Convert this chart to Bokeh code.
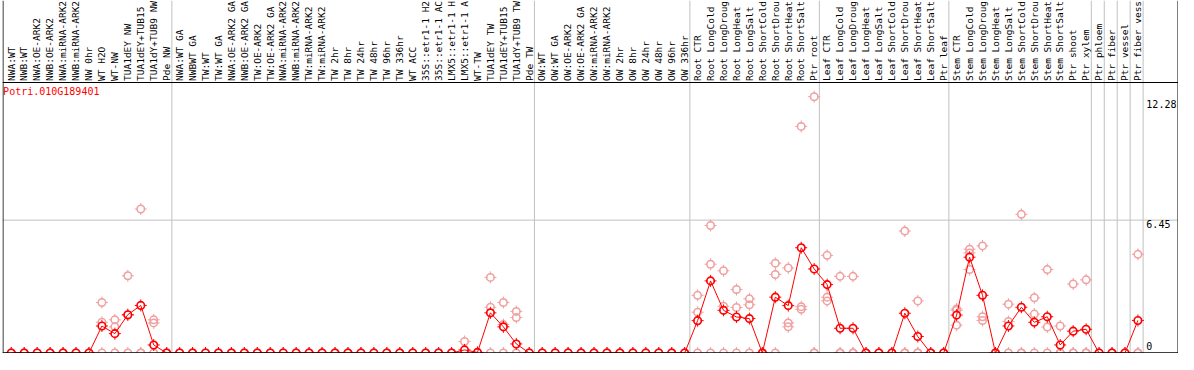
import numpy as np
from bokeh.plotting import figure
from bokeh.models import ColumnDataSource, Range1d, Span
from bokeh.embed import file_html
from bokeh.resources import INLINE
from bokeh.core.properties import value

gene_id = "Potri.010G189401"

# column labels as shown (the reference cuts them at 14 characters)
labels = [
    # group 1
    "NWA:WT", "NWB:WT", "NWA:OE-ARK2", "NWB:OE-ARK2", "NWA:miRNA-ARK2", "NWB:miRNA-ARK2",
    "NW 0hr", "WT H2O", "WT-NW", "TUA1dEY NW", "TUA1dEY+TUB15", "TUA1dY+TUB9 NW", "Pde NW",
    # group 2
    "NWA:WT GA", "NWBWT GA", "TW:WT", "TW:WT GA", "NWA:OE-ARK2 GA", "NWB:OE-ARK2 GA",
    "TW:OE-ARK2", "TW:OE-ARK2 GA", "NWA:miRNA-ARK2", "NWB:miRNA-ARK2", "TW:miRNA-ARK2",
    "TW:miRNA-ARK2", "TW 2hr", "TW 8hr", "TW 24hr", "TW 48hr", "TW 96hr", "TW 336hr",
    "WT ACC", "35S::etr1-1 H2", "35S::etr1-1 AC", "LMX5::etr1-1 H", "LMX5::etr1-1 A",
    "WT-TW", "TUA1dEY TW", "TUA1dEY+TUB15", "TUA1dY+TUB9 TW", "Pde TW",
    # group 3
    "OW:WT", "OW:WT GA", "OW:OE-ARK2", "OW:OE-ARK2 GA", "OW:miRNA-ARK2", "OW:miRNA-ARK2",
    "OW 2hr", "OW 8hr", "OW 24hr", "OW 48hr", "OW 96hr", "OW 336hr",
    # group 4
    "Root CTR", "Root LongCold", "Root LongDroug", "Root LongHeat", "Root LongSalt",
    "Root ShortCold", "Root ShortDrou", "Root ShortHeat", "Root ShortSalt", "Ptr root",
    # group 5
    "Leaf CTR", "Leaf LongCold", "Leaf LongDroug", "Leaf LongHeat", "Leaf LongSalt",
    "Leaf ShortCold", "Leaf ShortDrou", "Leaf ShortHeat", "Leaf ShortSalt", "Ptr leaf",
    # group 6
    "Stem CTR", "Stem LongCold", "Stem LongDroug", "Stem LongHeat", "Stem LongSalt",
    "Stem ShortCold", "Stem ShortDrou", "Stem ShortHeat", "Stem ShortSalt", "Ptr shoot",
    "Ptr xylem",
    # singles
    "Ptr phloem", "Ptr fiber", "Ptr vessel", "Ptr fiber vess",
]

group_sizes = [13, 28, 12, 10, 10, 11, 1, 1, 1, 1]

means = [
    0, 0, 0, 0, 0, 0, 0, 1.31, 0.94, 1.86, 2.31, 0.39, 0,
    0, 0, 0, 0, 0, 0, 0, 0, 0, 0, 0, 0, 0, 0, 0, 0, 0, 0, 0, 0, 0, 0,
    0.15, 0.03, 1.95, 1.27, 0.44, 0,
    0, 0, 0, 0, 0, 0, 0, 0, 0, 0, 0, 0,
    1.57, 3.50, 2.07, 1.75, 1.67, 0, 2.71, 2.30, 5.11, 4.08,
    3.32, 1.20, 1.20, 0, 0, 0, 1.93, 0.80, 0, 0,
    1.84, 4.65, 2.80, 0, 1.31, 2.22, 1.49, 1.76, 0.39, 1.06, 1.15,
    0, 0, 0, 1.58,
]

rep_a = [
    0, 0, 0, 0, 0, 0, 0, 2.45, 1.61, 3.75, 6.99, 1.61, 0,
    0, 0, 0, 0, 0, 0, 0, 0, 0, 0, 0, 0, 0, 0, 0, 0, 0, 0, 0, 0, 0, 0,
    0.56, 0, 3.67, 2.45, 2.02, 0,
    0, 0, 0, 0, 0, 0, 0, 0, 0, 0, 0, 0,
    2.80, 6.19, 3.99, 3.08, 2.63, 0, 4.36, 4.13, 11.00, 12.44,
    4.74, 3.72, 3.72, 0, 0, 0, 5.92, 2.53, 0, 0,
    2.14, 5.04, 5.20, 0, 2.37, 6.73, 2.68, 4.05, 1.31, 3.35, 3.55,
    0, 0, 0, 4.79,
]

rep_b = [
    0, 0, 0, 0, 0, 0, 0, 1.49, 1.27, 1.83, 0, 1.46, 0,
    0, 0, 0, 0, 0, 0, 0, 0, 0, 0, 0, 0, 0, 0, 0, 0, 0, 0, 0, 0, 0, 0,
    0, 0, 2.22, 1.38, 1.72, 0,
    0, 0, 0, 0, 0, 0, 0, 0, 0, 0, 0, 0,
    1.98, 4.31, 2.27, 2.21, 2.34, 0, 3.81, 1.46, 2.25, 0,
    2.71, 0, 0, 0, 0, 0, 0, 0, 0, 0,
    2.07, 4.86, 1.76, 0, 1.53, 0, 1.89, 1.26, 0, 0, 0,
    0, 0, 0, 0,
]

rep_c = [
    0, 0, 0, 0, 0, 0, 0, 0, 0, 0, 0, 0, 0,
    0, 0, 0, 0, 0, 0, 0, 0, 0, 0, 0, 0, 0, 0, 0, 0, 0, 0, 0, 0, 0, 0,
    0, 0, 0, 0, 0, 0,
    0, 0, 0, 0, 0, 0, 0, 0, 0, 0, 0, 0,
    0, 0, 0, 0, 0, 0, 0, 1.27, 2.12, 0,
    2.53, 0, 0, 0, 0, 0, 0, 0, 0, 0,
    1.35, 4.05, 1.58, 0, 0, 0, 0, 0, 0, 0, 0,
    0, 0, 0, 0,
]

tick_values = [0, 6.45, 12.28]
tick_labels = ["0", "6.45", "12.28"]

# ---------------- layout ----------------
W, H = 1178, 353
SLOT = 12.95     # px per sample column
PXU = 20.6       # px per expression unit
x0 = -1.0 / SLOT
x1 = x0 + (W - 2) / SLOT
y0 = -0.5 / PXU
y1 = y0 + H / PXU
HEADER = (360.5 - 90.0) / PXU
FONT = value("DejaVu Sans Mono")
RED = "#ff0000"
PINK = "#f0a0a0"
GRAY = "#c0c0c0"

p = figure(width=W, height=H, x_range=Range1d(x0, x1), y_range=Range1d(y0, y1),
           output_backend="svg", toolbar_location=None,
           x_axis_type=None, y_axis_type=None,
           min_border_left=2, min_border_right=0, min_border_top=0, min_border_bottom=0,
           outline_line_color=None, background_fill_color="white", border_fill_color="white")

n = len(labels)
xs = [i + 0.6 for i in range(n)]
ncols = int(np.sum(group_sizes))

# gray grid: group separators and value line
for b in np.cumsum(group_sizes):
    p.add_layout(Span(location=float(b), dimension="height", line_color=GRAY,
                      line_width=1, level="underlay"))
p.add_layout(Span(location=tick_values[1], dimension="width", line_color=GRAY,
                  line_width=1, level="underlay"))

# black frame pieces
p.add_layout(Span(location=x0 + 0.5 / SLOT, dimension="height", line_color="black", line_width=1))
p.add_layout(Span(location=x1 - 0.5 / SLOT, dimension="height", line_color="black", line_width=1))
p.add_layout(Span(location=HEADER, dimension="width", line_color="black", line_width=1))

# column labels
p.text(x=[i + 0.58 for i in range(n)], y=[HEADER + 1.5 / PXU] * n, text=labels,
       angle=np.pi / 2, text_align="left", text_baseline="middle",
       text_font=FONT, text_font_size="9.5px", text_color="black")

# gene id
p.text(x=[-0.03], y=[HEADER - 3.0 / PXU], text=[gene_id], text_align="left", text_baseline="top",
       text_font=FONT, text_font_size="10px", text_color=RED)

# value labels
lx = ncols + 0.25
p.text(x=[lx, lx], y=tick_values[1:], text=tick_labels[1:], text_align="left",
       text_baseline="top", text_font=FONT, text_font_size="10px", text_color="black")
p.text(x=[lx], y=[tick_values[0] + 3.5 / PXU], text=tick_labels[:1], text_align="left",
       text_baseline="bottom", text_font=FONT, text_font_size="10px", text_color="black")

# replicates
rsrc = ColumnDataSource(dict(x=xs * 3, y=rep_a + rep_b + rep_c))
p.scatter("x", "y", source=rsrc, marker="cross", size=12, line_color=PINK, line_width=1)
p.scatter("x", "y", source=rsrc, marker="circle", size=6, fill_color="white", line_color=None)
p.scatter("x", "y", source=rsrc, marker="circle", size=7.5, fill_color=None,
          line_color=PINK, line_width=1.5)

# means
msrc = ColumnDataSource(dict(x=xs, y=means))
p.scatter("x", "y", source=msrc, marker="cross", size=12, line_color=RED, line_width=1)
p.scatter("x", "y", source=msrc, marker="circle", size=6, fill_color="white", line_color=None)
p.line("x", "y", source=msrc, line_color=RED, line_width=1)
p.scatter("x", "y", source=msrc, marker="circle", size=7.5, fill_color=None,
          line_color=RED, line_width=1.6)

# bottom border on top
p.add_layout(Span(location=0, dimension="width", line_color="black", line_width=1.5,
                  level="overlay"))

open("out.html", "w").write(file_html(p, INLINE))
